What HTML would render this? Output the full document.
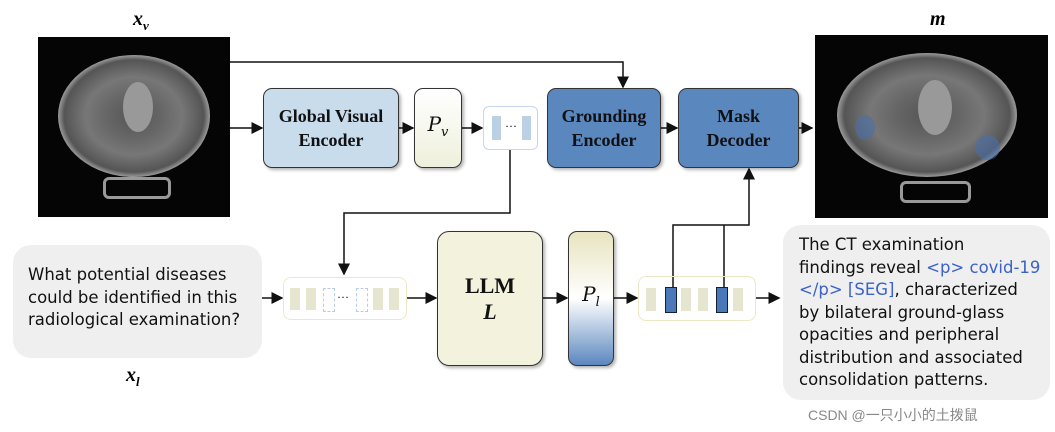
<!DOCTYPE html>
<html><head><style>
body{margin:0;width:1055px;height:432px;background:#fff;position:relative;overflow:hidden;font-family:"Liberation Serif",serif}
.b{position:absolute;border:1.5px solid #333;border-radius:9px;box-sizing:border-box;display:flex;align-items:center;justify-content:center;text-align:center;font-weight:bold;font-size:18px;line-height:24px;color:#111;box-shadow:2px 2px 3px rgba(0,0,0,.3)}
.ct{position:absolute;background:#050505;overflow:hidden}
.t{position:absolute;font-family:"DejaVu Sans",sans-serif;font-size:16.5px;line-height:22.5px;color:#111}
.lab{position:absolute;font-style:italic;font-weight:bold;font-size:20px}
.p{font-family:"DejaVu Serif",serif;font-style:italic;font-weight:normal;font-size:20px}
</style></head><body>
<div class="ct" style="left:38px;top:37px;width:192px;height:180px">
<div style="position:absolute;left:20px;top:18px;width:152px;height:122px;border-radius:50%;background:radial-gradient(ellipse at 50% 50%,#555 0,#666 25%,#777 45%,#555 65%,#aaa 72%,#222 80%)"></div>
<div style="position:absolute;left:85px;top:45px;width:30px;height:50px;background:#999;border-radius:50%"></div>
<div style="position:absolute;left:65px;top:140px;width:62px;height:16px;border:3px solid #999;border-radius:6px"></div></div>
<div class="ct" style="left:815px;top:35px;width:233px;height:183px">
<div style="position:absolute;left:22px;top:18px;width:180px;height:124px;border-radius:50%;background:radial-gradient(ellipse at 50% 50%,#555 0,#666 25%,#777 45%,#555 65%,#aaa 72%,#222 80%)"></div>
<div style="position:absolute;left:103px;top:45px;width:34px;height:55px;background:#999;border-radius:50%"></div>
<div style="position:absolute;left:40px;top:80px;width:20px;height:25px;background:#4a6fa8;opacity:.6;border-radius:50%"></div>
<div style="position:absolute;left:160px;top:100px;width:25px;height:25px;background:#4a6fa8;opacity:.6;border-radius:50%"></div>
<div style="position:absolute;left:85px;top:146px;width:65px;height:16px;border:3px solid #999;border-radius:6px"></div></div>
<div class="lab" style="left:133px;top:8px">x<sub style="font-size:13px">v</sub></div>
<div class="lab" style="left:930px;top:8px">m</div>
<div class="lab" style="left:126px;top:364px">x<sub style="font-size:13px">l</sub></div>

<svg width="1055" height="432" style="position:absolute;left:0;top:0">
<defs><marker id="a" markerWidth="8" markerHeight="8" refX="7" refY="4" orient="auto"><path d="M0,0L8,4L0,8z" fill="#111"/></marker></defs>
<g stroke="#111" stroke-width="1.5" fill="none" marker-end="url(#a)">
<path d="M230,62H623V87"/><path d="M230,128H262"/><path d="M399,128H413"/><path d="M462,128H482"/>
<path d="M661,128H677"/><path d="M799,128H812"/>
<path d="M510,150V213H344V274"/><path d="M262,298H282"/><path d="M407,298H436"/><path d="M543,298H567"/>
<path d="M614,298H637"/><path d="M756,298H779"/>
<path d="M673,287V225H749V169"/>
</g>
<path d="M724,287V225" stroke="#111" stroke-width="1.5"/></svg>

<div class="b" style="left:263px;top:88px;width:136px;height:80px;background:#c9dcec">Global Visual<br>Encoder</div>
<div class="b" style="left:414px;top:88px;width:48px;height:80px;background:linear-gradient(#fff,#eef0dc)"><span class="p">P<sub style="font-size:13px">v</sub></span></div>
<div style="position:absolute;left:483px;top:106px;width:55px;height:44px;border:1.5px solid #c5d6ee;border-radius:6px;box-sizing:border-box">
<div style="position:absolute;left:8px;top:9px;width:9px;height:24px;background:#bcd0e4"></div>
<div style="position:absolute;left:21px;top:12px;font-size:12px">···</div>
<div style="position:absolute;left:38px;top:9px;width:9px;height:24px;background:#bcd0e4"></div></div>
<div class="b" style="left:547px;top:88px;width:114px;height:80px;background:#5b87bf">Grounding<br>Encoder</div>
<div class="b" style="left:678px;top:88px;width:121px;height:80px;background:#5b87bf">Mask<br>Decoder</div>

<div style="position:absolute;left:283px;top:277px;width:124px;height:43px;border:1.5px solid #ece8c6;border-radius:8px;box-sizing:border-box">
<div style="position:absolute;left:6px;top:10px;width:10px;height:22px;background:#e6e6d0"></div>
<div style="position:absolute;left:22px;top:10px;width:10px;height:22px;background:#e6e6d0"></div>
<div style="position:absolute;left:39px;top:10px;width:10px;height:22px;border:1px dashed #b8cce4"></div>
<div style="position:absolute;left:53px;top:12px;font-size:12px">···</div>
<div style="position:absolute;left:72px;top:10px;width:10px;height:22px;border:1px dashed #b8cce4"></div>
<div style="position:absolute;left:89px;top:10px;width:10px;height:22px;background:#e6e6d0"></div>
<div style="position:absolute;left:105px;top:10px;width:10px;height:22px;background:#e6e6d0"></div></div>
<div class="b" style="left:437px;top:231px;width:106px;height:135px;background:#f3f2dc;font-size:22px;line-height:26px;border-radius:12px"><div>LLM<br><i>L</i></div></div>
<div class="b" style="left:568px;top:231px;width:46px;height:135px;background:linear-gradient(#e8e4c0,#fff 50%,#5b87bf)"><span class="p">P<sub style="font-size:13px">l</sub></span></div>
<div style="position:absolute;left:638px;top:276px;width:118px;height:45px;border:1.5px solid #ece8c6;border-radius:8px;box-sizing:border-box">
<div style="position:absolute;left:7px;top:11px;width:10px;height:23px;background:#e6e6d0"></div>
<div style="position:absolute;left:26px;top:10px;width:10px;height:24px;background:#4a78b8;border:1px solid #123"></div>
<div style="position:absolute;left:42px;top:11px;width:10px;height:23px;background:#e6e6d0"></div>
<div style="position:absolute;left:59px;top:11px;width:10px;height:23px;background:#e6e6d0"></div>
<div style="position:absolute;left:77px;top:10px;width:10px;height:24px;background:#4a78b8;border:1px solid #123"></div>
<div style="position:absolute;left:94px;top:11px;width:10px;height:23px;background:#e6e6d0"></div></div>

<div style="position:absolute;left:13px;top:245px;width:249px;height:113px;background:#efefef;border-radius:18px"></div>
<div class="t" style="left:28px;top:264px">What potential diseases<br>could be identified in this<br>radiological examination?</div>
<div style="position:absolute;left:783px;top:225px;width:267px;height:175px;background:#efefef;border-radius:18px"></div>
<div class="t" style="left:799px;top:234px">The CT examination<br>findings reveal <span style="color:#3a62c8">&lt;p&gt; covid-19</span><br><span style="color:#3a62c8">&lt;/p&gt; [SEG]</span>, characterized<br>by bilateral ground-glass<br>opacities and peripheral<br>distribution and associated<br>consolidation patterns.</div>
<div style="position:absolute;left:808px;top:405px;font-family:'Liberation Sans','Noto Sans CJK SC',sans-serif;font-size:14px;color:#888">CSDN @一只小小的土拨鼠</div>
</body></html>
